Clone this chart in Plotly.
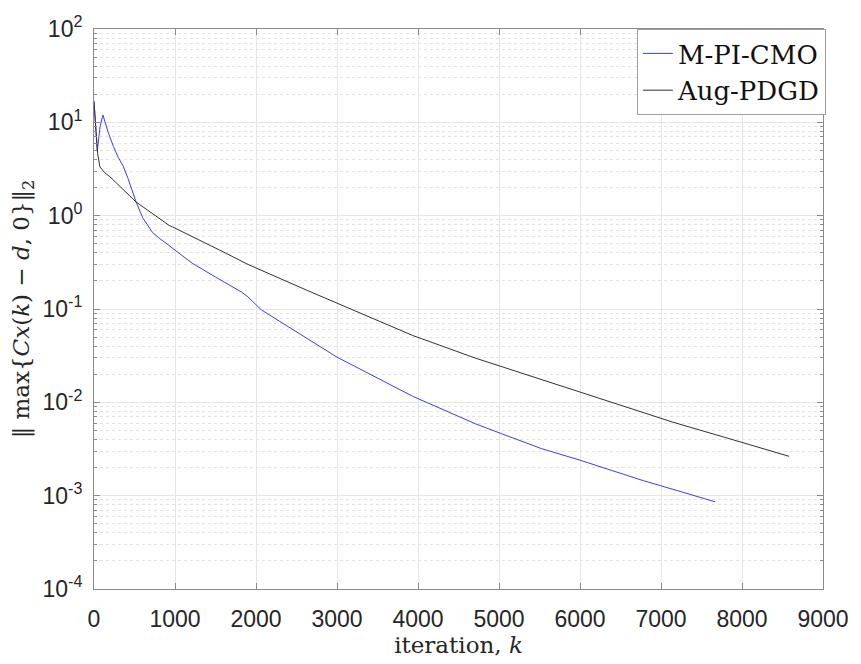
import plotly.graph_objects as go

# M-PI-CMO
k_mpi = [0, 15, 40, 75, 110, 171, 240, 300, 360, 420, 520, 601, 683, 723, 800, 886, 967, 1211,
         1500, 1821, 1900, 2065, 2431, 3000, 3935, 4707, 4951, 5521, 6000, 6780, 7146, 7667]
v_mpi = [17, 10, 4.9, 9, 12, 8.0, 5.5, 4.2, 3.4, 2.5, 1.4, 0.95, 0.74, 0.66, 0.58, 0.51, 0.45, 0.31,
         0.22, 0.152, 0.135, 0.098, 0.062, 0.0305, 0.0116, 0.0059, 0.0049, 0.0032, 0.0024,
         0.00145, 0.00117, 0.00086]

# Aug-PDGD
k_aug = [0, 45, 73, 134, 195, 520, 927, 967, 1618, 1902, 2634, 3163, 3935, 4707, 4951,
         5521, 6780, 7146, 8000, 8581]
v_aug = [16.6, 4.6, 3.33, 2.88, 2.62, 1.4, 0.787, 0.76, 0.40, 0.30, 0.158, 0.1, 0.052,
         0.0298, 0.0254, 0.0175, 0.0078, 0.00613, 0.00372, 0.00264]

x_ticks = [0, 1000, 2000, 3000, 4000, 5000, 6000, 7000, 8000, 9000]
y_tick_exps = [-4, -3, -2, -1, 0, 1, 2]

fig = go.Figure()
fig.add_trace(go.Scatter(x=k_mpi, y=v_mpi, mode="lines", name="M-PI-CMO",
                         line=dict(color="rgb(60,60,255)", width=1)))
fig.add_trace(go.Scatter(x=k_aug, y=v_aug, mode="lines", name="Aug-PDGD",
                         line=dict(color="rgb(50,50,50)", width=1)))

tickfont = dict(family="Liberation Sans, Arial, sans-serif", size=23, color="#262626")
axis_common = dict(showline=True, linecolor="#8a8a8a", linewidth=1, mirror="ticks",
                   ticks="inside", tickcolor="#8a8a8a", ticklen=6, tickfont=tickfont,
                   showgrid=True, gridcolor="#e6e6e6", gridwidth=1, zeroline=False)

fig.update_xaxes(range=[0, 9000], tickvals=x_ticks, ticktext=[str(v) for v in x_ticks],
                 ticklabelstandoff=9,
                 title=dict(text="iteration, <i>k</i>", standoff=4,
                            font=dict(family="DejaVu Serif, serif", size=23, color="#262626")),
                 **axis_common)
fig.update_yaxes(type="log", range=[-4, 2],
                 tickvals=[10.0 ** e for e in y_tick_exps],
                 ticktext=["10<sup>%d</sup>" % e for e in y_tick_exps],
                 ticklabelstandoff=6,
                 minor=dict(dtick="D1", ticks="inside", ticklen=3, tickcolor="#8a8a8a",
                            showgrid=True, gridcolor="#e3e3e3", griddash="dot"),
                 title=dict(text="‖ max{<i>Cx</i>(<i>k</i>) − <i>d</i>, 0}‖<sub>2</sub>", standoff=6,
                            font=dict(family="DejaVu Serif, serif", size=23, color="#262626")),
                 **axis_common)

fig.update_layout(
    width=861, height=664,
    margin=dict(l=94, r=29, t=22, b=68),
    paper_bgcolor="white", plot_bgcolor="white",
    showlegend=True,
    legend=dict(x=1.004, y=1.0, xanchor="right", yanchor="top",
                bgcolor="white", bordercolor="#a0a0a0", borderwidth=1,
                font=dict(family="DejaVu Serif, serif", size=26, color="#111111"),
                itemwidth=30, tracegroupgap=0),
)

fig.write_html("out.html")
